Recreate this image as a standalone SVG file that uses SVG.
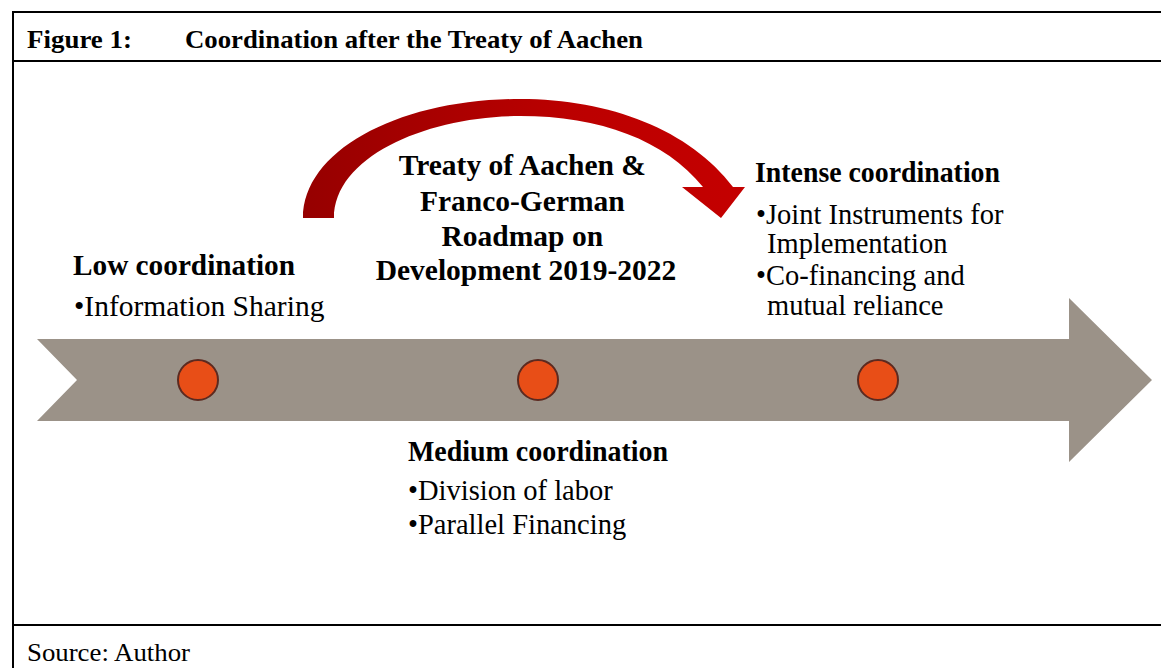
<svg xmlns="http://www.w3.org/2000/svg" width="1161" height="668" viewBox="0 0 1161 668">
<style>
.frame{fill:none;stroke:#000;stroke-width:2}
.t{font-family:"Liberation Serif","Times New Roman",serif;fill:#000}
.b{font-weight:bold}
.r{font-size:28.5px}
.dot{fill:#e84e17;stroke:#5c2a20;stroke-width:2}
</style>
<defs>
<linearGradient id="rg" x1="303" y1="0" x2="745" y2="0" gradientUnits="userSpaceOnUse">
<stop offset="0" stop-color="#960000"/>
<stop offset="0.6" stop-color="#bb0000"/>
<stop offset="1" stop-color="#c40000"/>
</linearGradient>
</defs>
<rect width="1161" height="668" fill="#fff"/>
<g id="frame">
<rect class="frame" x="13" y="12" width="1160" height="670"/>
<line class="frame" x1="13" y1="61" x2="1161" y2="61"/>
<line class="frame" x1="13" y1="625" x2="1161" y2="625"/>
<text class="t b" x="27" y="48" font-size="25" textLength="105" lengthAdjust="spacingAndGlyphs">Figure 1:</text>
<text class="t b" x="185" y="48" font-size="25" textLength="458" lengthAdjust="spacingAndGlyphs">Coordination after the Treaty of Aachen</text>
<text class="t" x="27" y="661" font-size="25" textLength="163" lengthAdjust="spacingAndGlyphs">Source: Author</text>
</g>
<g id="timeline">
<polygon points="37,339 1069,339 1069,298 1152,380 1069,462 1069,421 37,421 77,380" fill="#9b9288"/>
</g>
<g id="connectors">
<path d="M303,218 C303,150 400,99 520,99 C610,99 690,130 733,187 L745,187 L721,218 L682,187 L703,187 C665,140 600,116 520,116 C430,116 334,155 334,218 Z" fill="url(#rg)"/>
</g>
<g id="node-low">
<circle class="dot" cx="198" cy="380" r="20"/>
<text class="t b" x="73" y="275" font-size="29" textLength="222" lengthAdjust="spacingAndGlyphs">Low coordination</text>
<text class="t" x="74" y="316" font-size="29.5">•Information Sharing</text>
</g>
<g id="node-medium">
<circle class="dot" cx="538" cy="380" r="20"/>
<text class="t b" x="408" y="461" font-size="29" textLength="260" lengthAdjust="spacingAndGlyphs">Medium coordination</text>
<text class="t r" x="408" y="500">•Division of labor</text>
<text class="t r" x="408" y="534">•Parallel Financing</text>
</g>
<g id="node-treaty">
<text class="t b" font-size="29.5" text-anchor="middle">
<tspan x="526" y="175">Treaty of Aachen &amp;</tspan>
<tspan x="526" y="211">Franco-German</tspan>
<tspan x="526" y="246">Roadmap on</tspan>
<tspan x="526" y="280">Development 2019-2022</tspan>
</text>
</g>
<g id="node-intense">
<circle class="dot" cx="878" cy="380" r="20"/>
<text class="t b" x="755" y="182" font-size="29" textLength="245" lengthAdjust="spacingAndGlyphs">Intense coordination</text>
<text class="t r">
<tspan x="756" y="224">•Joint Instruments for</tspan>
<tspan x="767" y="253">Implementation</tspan>
<tspan x="756" y="285">•Co-financing and</tspan>
<tspan x="767" y="315">mutual reliance</tspan>
</text>
</g>
</svg>
